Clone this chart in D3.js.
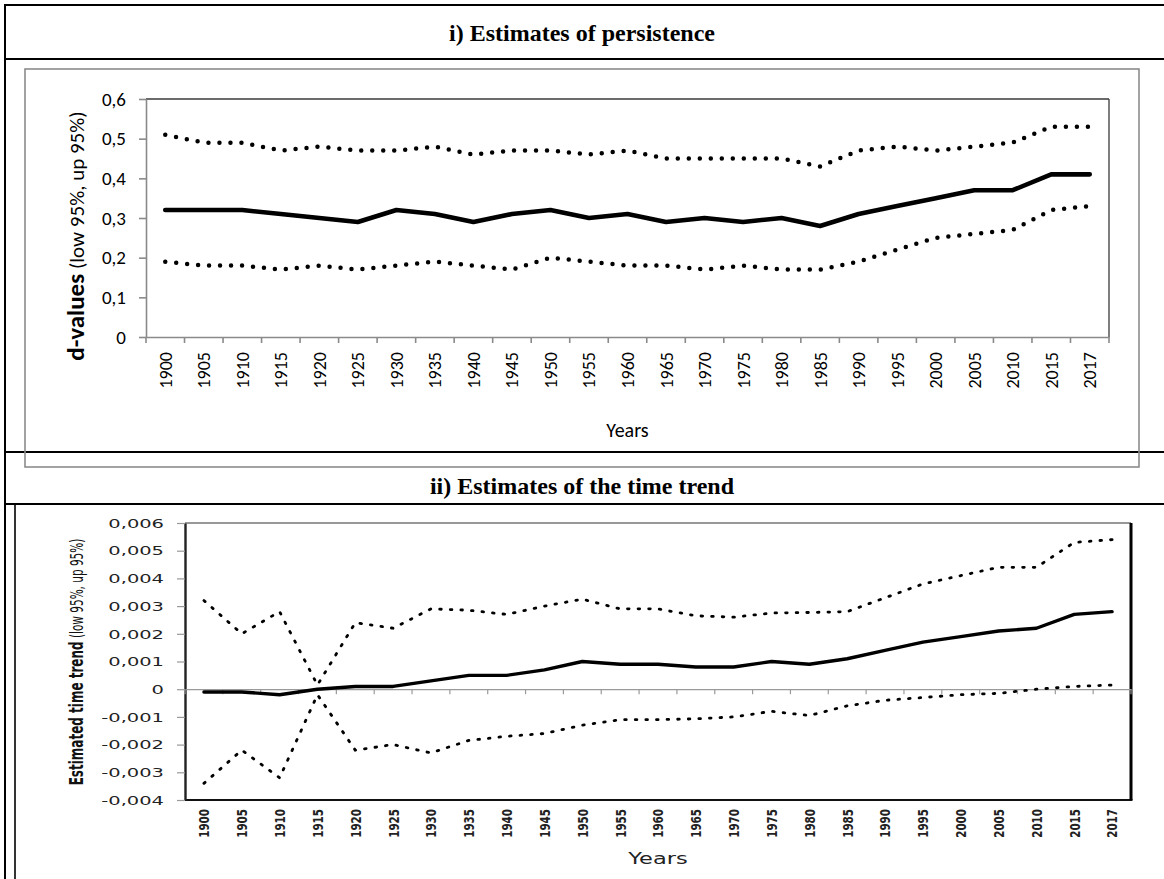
<!DOCTYPE html>
<html><head><meta charset="utf-8">
<script src="https://cdn.jsdelivr.net/npm/d3@7"></script>
<style>body{margin:0;background:#fff}svg{display:block}</style>
</head><body>
<svg id="c" width="1164" height="879"></svg>
<script>
// ---------- data ----------
const years = ["1900","1905","1910","1915","1920","1925","1930","1935","1940","1945","1950","1955","1960","1965","1970","1975","1980","1985","1990","1995","2000","2005","2010","2015","2017"];

// i) persistence (d-values)
const persistD   = [0.32,0.32,0.32,0.31,0.30,0.29,0.32,0.31,0.29,0.31,0.32,0.30,0.31,0.29,0.30,0.29,0.30,0.28,0.31,0.33,0.35,0.37,0.37,0.41,0.41];
const persistUp  = [0.51,0.49,0.49,0.47,0.48,0.47,0.47,0.48,0.46,0.47,0.47,0.46,0.47,0.45,0.45,0.45,0.45,0.43,0.47,0.48,0.47,0.48,0.49,0.53,0.53];
const persistLow = [0.19,0.18,0.18,0.17,0.18,0.17,0.18,0.19,0.18,0.17,0.20,0.19,0.18,0.18,0.17,0.18,0.17,0.17,0.19,0.22,0.25,0.26,0.27,0.32,0.33];
const persistTicks = [0,0.1,0.2,0.3,0.4,0.5,0.6];

// ii) time trend
const trendEst = [-0.0001,-0.0001,-0.0002,0.0000,0.0001,0.0001,0.0003,0.0005,0.0005,0.0007,0.0010,0.0009,0.0009,0.0008,0.0008,0.0010,0.0009,0.0011,0.0014,0.0017,0.0019,0.0021,0.0022,0.0027,0.0028];
const trendUp  = [0.0032,0.0020,0.0028,0.00015,0.0024,0.0022,0.0029,0.00285,0.0027,0.0030,0.00325,0.0029,0.0029,0.00265,0.0026,0.00275,0.00277,0.0028,0.0033,0.0038,0.0041,0.0044,0.0044,0.0053,0.0054];
const trendLow = [-0.0034,-0.0022,-0.0032,-0.0002,-0.0022,-0.0020,-0.0023,-0.00185,-0.0017,-0.0016,-0.0013,-0.0011,-0.0011,-0.00107,-0.0010,-0.0008,-0.00095,-0.0006,-0.0004,-0.0003,-0.0002,-0.00015,0.0000,0.0001,0.00015];
const trendTicks = [-0.004,-0.003,-0.002,-0.001,0,0.001,0.002,0.003,0.004,0.005,0.006];

const titleTop = "i) Estimates of persistence";
const titleBottom = "ii) Estimates of the time trend";

// ---------- drawing ----------
const svg = d3.select("#c");
const serif = "'Liberation Serif','Times New Roman',serif";
const cal = "Carlito, Lato, sans-serif";
const verd = "'DejaVu Sans', Verdana, sans-serif";

// table frame
const frame = svg.append("g").attr("stroke","#000").attr("stroke-width",2).attr("fill","none");
frame.append("line").attr("x1",5).attr("x2",5).attr("y1",4).attr("y2",879);
[5,59,452,504].forEach(yy => frame.append("line").attr("x1",4).attr("x2",1164).attr("y1",yy).attr("y2",yy));
frame.append("line").attr("x1",15).attr("x2",15).attr("y1",505).attr("y2",879).attr("stroke-width",1.6);

svg.append("text").attr("x",582).attr("y",41).attr("text-anchor","middle")
  .attr("font-family",serif).attr("font-weight","bold").attr("font-size",24).text(titleTop);
svg.append("text").attr("x",582).attr("y",494).attr("text-anchor","middle")
  .attr("font-family",serif).attr("font-weight","bold").attr("font-size",24).text(titleBottom);

// ===== chart i =====
const xT = d3.scaleBand().domain(years).range([146,1109]);
const yT = d3.scaleLinear().domain([0,0.6]).range([337,99]);
const cx = (s) => (d,i) => s(years[i]) + s.bandwidth()/2;

const gT = svg.append("g");
gT.append("line").attr("x1",xT.range()[0]).attr("x2",xT.range()[1]).attr("y1",yT(0.6)).attr("y2",yT(0.6)).attr("stroke","#3a3a3a").attr("stroke-width",1.3);
gT.append("line").attr("x1",xT.range()[1]).attr("x2",xT.range()[1]).attr("y1",yT(0.6)).attr("y2",yT(0)).attr("stroke","#3a3a3a").attr("stroke-width",1.3);

const fmtT = d => d === 0 ? "0" : d3.format(".1f")(d).replace(".",",");
const axL = gT.append("g").attr("transform",`translate(${xT.range()[0]},0)`)
  .call(d3.axisLeft(yT).tickValues(persistTicks).tickSize(7).tickPadding(13).tickSizeOuter(0).tickFormat(fmtT));
axL.selectAll("path,line").attr("stroke","#8a8a8a").attr("stroke-width",1.6);
axL.selectAll("text").attr("font-family",cal).attr("font-size",19).attr("fill","#000");

const axB = gT.append("g").attr("transform",`translate(0,${yT(0)})`)
  .call(d3.axisBottom(xT).tickSize(0).tickSizeOuter(0));
axB.select("path").attr("stroke","#8a8a8a").attr("stroke-width",1.6);
axB.selectAll("text").attr("font-family",cal).attr("font-size",18).attr("fill","#000")
  .attr("text-anchor","end").attr("x",0).attr("y",0).attr("dy","0.36em")
  .attr("transform","translate(0,15) rotate(-90)");
gT.append("g").selectAll("line").data(years.map(d=>xT(d)).concat([xT.range()[1]])).join("line")
  .attr("x1",d=>d).attr("x2",d=>d).attr("y1",yT(0)).attr("y2",yT(0)+6).attr("stroke","#8a8a8a").attr("stroke-width",1.6);

const lineT = d3.line().x(cx(xT)).y(d=>yT(d));
gT.append("path").datum(persistUp).attr("d",lineT).attr("fill","none").attr("stroke","#000")
  .attr("stroke-width",4.5).attr("stroke-linecap","round").attr("stroke-dasharray","0,11");
gT.append("path").datum(persistLow).attr("d",lineT).attr("fill","none").attr("stroke","#000")
  .attr("stroke-width",4.5).attr("stroke-linecap","round").attr("stroke-dasharray","0,11");
gT.append("path").datum(persistD).attr("d",lineT).attr("fill","none").attr("stroke","#000")
  .attr("stroke-width",4.6).attr("stroke-linejoin","round").attr("stroke-linecap","round");

const ytT = gT.append("text").attr("transform","translate(84,236) rotate(-90)").attr("text-anchor","middle").attr("font-family",cal);
ytT.append("tspan").attr("font-weight","bold").attr("font-size",25).text("d-values");
ytT.append("tspan").attr("font-size",21).text(" (low 95%, up 95%)");
gT.append("text").attr("x",(xT.range()[0]+xT.range()[1])/2).attr("y",437).attr("text-anchor","middle")
  .attr("font-family",cal).attr("font-size",20).text("Years");

svg.append("rect").attr("x",25).attr("y",69).attr("width",1114).attr("height",398)
  .attr("fill","none").attr("stroke","#8c8c8c").attr("stroke-width",1.6);

// ===== chart ii =====
const SX = 1.65;
const xB = d3.scaleBand().domain(years).range([185,1131]);
const yB = d3.scaleLinear().domain([-0.004,0.006]).range([800,523]);
const gB = svg.append("g");

gB.append("line").attr("x1",xB.range()[0]).attr("x2",xB.range()[1]).attr("y1",yB(0.006)).attr("y2",yB(0.006)).attr("stroke","#333").attr("stroke-width",1.2);
gB.append("line").attr("x1",xB.range()[0]).attr("x2",xB.range()[1]+1.5).attr("y1",yB(-0.004)).attr("y2",yB(-0.004)).attr("stroke","#111").attr("stroke-width",2);
gB.append("line").attr("x1",xB.range()[1]).attr("x2",xB.range()[1]).attr("y1",yB(0.006)).attr("y2",yB(-0.004)).attr("stroke","#000").attr("stroke-width",3);

const fmtB = d => d === 0 ? "0" : (d < 0 ? "-" : "") + Math.abs(d).toFixed(3).replace(".",",");
const axLB = gB.append("g").attr("transform",`translate(${xB.range()[0]},0)`)
  .call(d3.axisLeft(yB).tickValues(trendTicks).tickSize(8).tickSizeOuter(0).tickFormat(fmtB));
axLB.select("path").attr("stroke","#222").attr("stroke-width",2.4);
axLB.selectAll("line").attr("stroke","#999").attr("stroke-width",1.2);
axLB.selectAll("text").attr("font-family",verd).attr("font-size",11.8).attr("fill","#222")
  .attr("x",0).attr("dy","0.36em").attr("transform",`translate(-21,0) scale(${SX},1)`);

const axBB = gB.append("g").attr("transform",`translate(0,${yB(0)})`)
  .call(d3.axisBottom(xB).tickSize(0).tickSizeOuter(0));
axBB.select("path").attr("stroke","#9a9a9a").attr("stroke-width",1.2);
axBB.selectAll("text").remove();
gB.append("g").selectAll("line").data(years.map(d=>xB(d)).concat([xB.range()[1]])).join("line")
  .attr("x1",d=>d).attr("x2",d=>d).attr("y1",yB(0)).attr("y2",yB(0)+5).attr("stroke","#9a9a9a").attr("stroke-width",1.2);
gB.append("g").selectAll("text").data(years).join("text")
  .attr("transform",d=>`translate(${xB(d)+xB.bandwidth()/2},809) scale(1.3,1) rotate(-90)`)
  .attr("text-anchor","end").attr("dy","0.36em").attr("font-family","'DejaVu Sans Condensed','DejaVu Sans',sans-serif")
  .attr("font-stretch","condensed").attr("font-weight","bold")
  .attr("font-size",11.5).attr("fill","#222").text(d=>d);

const lineB = d3.line().x(cx(xB)).y(d=>yB(d));
gB.append("path").datum(trendUp).attr("d",lineB).attr("fill","none").attr("stroke","#000")
  .attr("stroke-width",2.8).attr("stroke-linecap","round").attr("stroke-dasharray","1.6,9");
gB.append("path").datum(trendLow).attr("d",lineB).attr("fill","none").attr("stroke","#000")
  .attr("stroke-width",2.8).attr("stroke-linecap","round").attr("stroke-dasharray","1.6,9");
gB.append("path").datum(trendEst).attr("d",lineB).attr("fill","none").attr("stroke","#000")
  .attr("stroke-width",3.4).attr("stroke-linejoin","round").attr("stroke-linecap","round");

const ytB = gB.append("text").attr("transform",`translate(83,662) scale(${SX},1) rotate(-90)`)
  .attr("text-anchor","middle").attr("font-family",verd).attr("fill","#111");
ytB.append("tspan").attr("font-weight","bold").attr("font-size",12).text("Estimated time trend");
ytB.append("tspan").attr("font-size",10.5).text(" (low 95%, up 95%)");
gB.append("text").attr("transform",`translate(${(xB.range()[0]+xB.range()[1])/2},864) scale(1.5,1)`)
  .attr("text-anchor","middle").attr("font-family",verd).attr("font-size",15).attr("fill","#222").text("Years");
</script>
</body></html>
